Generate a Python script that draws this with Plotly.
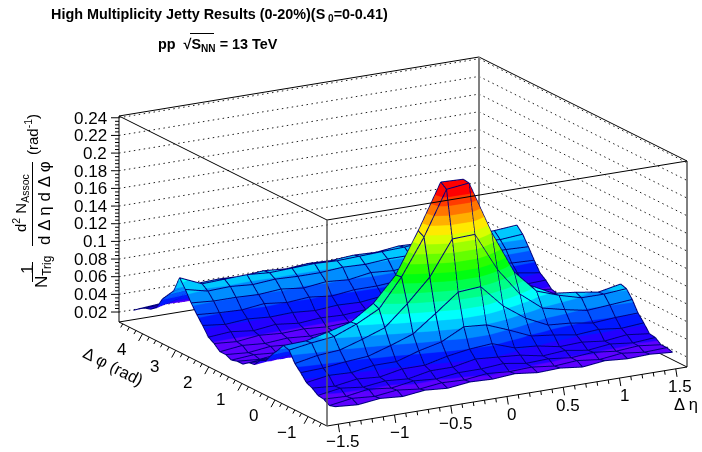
import math
import plotly.graph_objects as go

eta_centres = [-1.5,-1.3,-1.1,-0.9,-0.7,-0.5,-0.3,-0.1,0.1,0.3,0.5,0.7,0.9,1.1,1.3,1.5]
phi_centres = [-1.484,-1.309,-1.134,-0.960,-0.785,-0.611,-0.436,-0.262,-0.087,0.087,0.262,0.436,0.611,0.785,0.960,1.134,1.309,1.484,
               1.658,1.833,2.007,2.182,2.356,2.531,2.705,2.880,3.054,3.229,3.403,3.578,3.752,3.927,4.102,4.276,4.451,4.625]
yield_table = [
[.026,.024,.027,.025,.028,.026,.029,.028,.030,.027,.028,.025,.028,.026,.027,.025],
[.024,.028,.026,.029,.026,.029,.028,.031,.029,.030,.027,.029,.026,.029,.026,.027],
[.028,.027,.031,.028,.032,.030,.033,.033,.035,.031,.032,.029,.031,.028,.030,.027],
[.029,.033,.030,.033,.031,.036,.036,.041,.039,.037,.032,.034,.030,.033,.030,.032],
[.034,.032,.036,.034,.039,.039,.045,.049,.051,.042,.040,.035,.036,.033,.036,.033],
[.037,.041,.040,.044,.044,.052,.058,.071,.069,.059,.048,.045,.041,.043,.040,.042],
[.045,.046,.049,.051,.059,.068,.087,.107,.109,.083,.065,.053,.051,.047,.049,.050],
[.052,.057,.059,.067,.076,.099,.125,.164,.165,.121,.089,.069,.063,.058,.060,.062],
[.064,.068,.071,.081,.094,.126,.167,.217,.220,.160,.111,.085,.076,.069,.069,.071],
[.066,.067,.073,.080,.097,.125,.171,.222,.221,.163,.111,.088,.075,.072,.068,.073],
[.057,.057,.063,.067,.080,.099,.129,.165,.166,.123,.090,.071,.065,.060,.060,.059],
[.049,.051,.051,.057,.061,.074,.089,.112,.109,.088,.066,.058,.051,.052,.049,.051],
[.039,.042,.042,.046,.046,.054,.059,.072,.069,.060,.049,.046,.042,.043,.040,.042],
[.036,.034,.037,.035,.039,.040,.046,.050,.051,.043,.040,.036,.037,.034,.036,.034],
[.028,.031,.029,.032,.031,.035,.035,.041,.038,.037,.032,.032,.029,.031,.030,.031],
[.027,.025,.028,.025,.028,.027,.030,.030,.032,.028,.028,.026,.027,.025,.027,.025],
[.022,.024,.022,.025,.023,.025,.024,.027,.024,.026,.023,.025,.022,.024,.023,.024],
[.022,.020,.023,.021,.023,.021,.023,.021,.024,.021,.023,.020,.023,.021,.022,.020],
[.020,.022,.020,.023,.020,.023,.021,.023,.021,.022,.021,.023,.020,.022,.021,.022],
[.023,.021,.024,.022,.024,.022,.024,.021,.024,.022,.024,.023,.024,.022,.024,.021],
[.023,.026,.024,.026,.024,.026,.024,.026,.024,.027,.024,.026,.025,.027,.024,.026],
[.029,.027,.030,.028,.029,.027,.028,.027,.030,.028,.031,.028,.030,.028,.031,.028],
[.033,.035,.032,.035,.032,.034,.033,.035,.033,.036,.034,.037,.034,.036,.034,.035],
[.043,.040,.042,.040,.041,.039,.041,.040,.043,.041,.044,.042,.045,.042,.044,.040],
[.052,.050,.049,.052,.049,.051,.048,.051,.051,.053,.052,.055,.053,.055,.052,.051],
[.062,.060,.060,.059,.061,.058,.061,.059,.063,.061,.064,.063,.066,.064,.064,.063],
[.074,.068,.069,.067,.069,.068,.068,.070,.069,.071,.071,.074,.073,.075,.072,.074],
[.084,.073,.074,.075,.073,.074,.075,.074,.075,.076,.077,.079,.079,.078,.079,.081],
[.066,.070,.071,.070,.072,.070,.072,.071,.073,.072,.075,.074,.076,.074,.074,.073],
[.058,.061,.062,.060,.061,.060,.062,.061,.063,.062,.064,.065,.064,.066,.063,.062],
[.050,.052,.051,.053,.050,.052,.051,.053,.052,.054,.053,.055,.054,.055,.053,.054],
[.037,.044,.042,.045,.042,.044,.043,.045,.044,.046,.045,.047,.046,.047,.045,.046],
[.032,.037,.036,.038,.035,.038,.036,.038,.037,.039,.038,.040,.039,.040,.038,.039],
[.030,.031,.033,.031,.032,.030,.032,.031,.033,.032,.034,.032,.034,.033,.034,.032],
[.026,.028,.026,.027,.025,.027,.026,.028,.026,.028,.027,.029,.027,.029,.026,.028],
[.021,.023,.022,.023,.021,.023,.022,.023,.022,.024,.022,.024,.022,.024,.022,.023],
]
eta_major = [-1.5,-1,-0.5,0,0.5,1,1.5]
phi_major = [-1,0,1,2,3,4]
z_major = [0.02,0.04,0.06,0.08,0.1,0.12,0.14,0.16,0.18,0.2,0.22,0.24]
z_labels = ["0.02","0.04","0.06","0.08","0.1","0.12","0.14","0.16","0.18","0.2","0.22","0.24"]
eta_labels = ["\u22121.5","\u22121","\u22120.5","0","0.5","1","1.5"]
phi_labels = ["\u22121","0","1","2","3","4"]

ETA0, ETA1 = -1.6, 1.6
PHI0, PHI1 = -math.pi/2, 3*math.pi/2
Z0, Z1 = 0.0087, 0.242
EYE_D = 2.0
ZOOM = 1.97
LIFT = 0.0006
W, H = 702, 452

# paper position of a scene point, matching the scene camera below
def to_px(e, f, z):
    u = (e-ETA0)/(ETA1-ETA0); v = (f-PHI0)/(PHI1-PHI0); w = (z-Z0)/(Z1-Z0)
    return 327 + 360*u - 208*v, 426 - 59*u - 104*v - 206*w

def line_shape(p, q, color="black", width=1, dash=None, layer="above"):
    ln = dict(color=color, width=width)
    if dash: ln["dash"] = dash
    return dict(type="line", xref="paper", yref="paper", layer=layer, x0=p[0]/W, x1=q[0]/W, y0=1-p[1]/H, y1=1-q[1]/H, line=ln)

def frange(a, b, n):
    return [a + (b-a)*i/n for i in range(n+1)]

def seg_trace(segs, color, width):
    xs, ys, zs = [], [], []
    for p, q in segs:
        xs += [p[0], q[0], None]; ys += [p[1], q[1], None]; zs += [p[2], q[2], None]
    return go.Scatter3d(x=xs, y=ys, z=zs, mode="lines", line=dict(color=color, width=width), hoverinfo="skip", showlegend=False)

# 20-band rainbow
def hsv(h):
    h = h/60.0; i = int(h) % 6; f = h-int(h)
    v = [(1,f,0),(1-f,1,0),(0,1,f),(0,1-f,1),(f,0,1),(1,0,1-f)][i]
    return "rgb(%d,%d,%d)" % tuple(round(255*c) for c in v)
N = 20
scale = []
for i in range(N):
    c = hsv(262*(1-i/(N-1)))
    scale += [[i/N, c], [(i+1)/N, c]]

fig = go.Figure()
fig.add_trace(go.Surface(
    x=eta_centres, y=phi_centres, z=yield_table, surfacecolor=yield_table,
    cmin=0.02, cmax=0.22, colorscale=scale, showscale=False, hoverinfo="skip",
    lighting=dict(ambient=1, diffuse=0, specular=0, fresnel=0, roughness=1),
    contours=dict(x=dict(highlight=False), y=dict(highlight=False), z=dict(highlight=False)),
))
# wire mesh along the bin centres
wire = []
for k, phi in enumerate(phi_centres):
    for i in range(len(eta_centres)-1):
        wire.append(((eta_centres[i],phi,yield_table[k][i]+LIFT),(eta_centres[i+1],phi,yield_table[k][i+1]+LIFT)))
for i, eta in enumerate(eta_centres):
    for k in range(len(phi_centres)-1):
        wire.append(((eta,phi_centres[k],yield_table[k][i]+LIFT),(eta,phi_centres[k+1],yield_table[k+1][i]+LIFT)))
fig.add_trace(seg_trace(wire, "#00007a", 2))

# box corners
def c(e, f, z): return to_px(e, f, z)
A0, A1 = c(ETA0,PHI1,Z0), c(ETA0,PHI1,Z1)
B0, B1 = c(ETA0,PHI0,Z0), c(ETA0,PHI0,Z1)
C0, C1 = c(ETA1,PHI0,Z0), c(ETA1,PHI0,Z1)
D0, D1 = c(ETA1,PHI1,Z0), c(ETA1,PHI1,Z1)
shapes = []
# behind the surface
for z in z_major:
    a, d, r = c(ETA0,PHI1,z), c(ETA1,PHI1,z), c(ETA1,PHI0,z)
    shapes.append(line_shape(a, d, "#222222", 1, "1.5px,3.5px", "below"))
    shapes.append(line_shape(d, r, "#222222", 1, "1.5px,3.5px", "below"))
shapes += [line_shape(A0, D0, layer="below"), line_shape(D0, C0, layer="below"),
           line_shape(A1, D1, layer="below"), line_shape(D1, C1, layer="below"),
           line_shape(D0, D1, "#808080", 2, layer="below")]
# in front of the surface
shapes += [line_shape(A0, B0), line_shape(B0, C0), line_shape(A1, B1), line_shape(B1, C1),
           line_shape(A0, A1), line_shape(C0, C1),
           line_shape(B0, B1, "rgba(90,90,90,0.75)", 2)]
# ticks
for z in frange(0.02, 0.24, 55):
    p = c(ETA0,PHI1,z)
    L = 8 if any(abs(z-m) < 1e-6 for m in z_major) else 4
    shapes.append(line_shape(p, (p[0]-L, p[1])))
for e in frange(-1.5, 1.5, 30):
    p = c(e,PHI0,Z0)
    L = 8 if any(abs(e-m) < 1e-6 for m in eta_major) else 4
    shapes.append(line_shape(p, (p[0]+0.16*L, p[1]+L)))
for f in frange(-1.4, 4.6, 30):
    p = c(ETA0,f,Z0)
    L = 8 if any(abs(f-m) < 1e-6 for m in phi_major) else 4
    shapes.append(line_shape(p, (p[0]-0.5*L, p[1]+0.9*L)))
# title furniture
shapes += [line_shape((32.5,262),(32.5,282)), line_shape((32.5,162),(32.5,246)), line_shape((190,33.5),(214,33.5))]

FONT = "Liberation Sans"
annos3d = []
for z, t in zip(z_major, z_labels):
    annos3d.append(dict(x=ETA0,y=PHI1,z=z,text=t,showarrow=False,xanchor="right",yanchor="middle",xshift=-10,
                        font=dict(family=FONT,size=17,color="black")))
for e, t in zip(eta_major, eta_labels):
    annos3d.append(dict(x=e,y=PHI0,z=Z0,text=t,showarrow=False,xanchor="center",yanchor="middle",xshift=5,yshift=-18,
                        font=dict(family=FONT,size=17,color="black")))
for f, t in zip(phi_major, phi_labels):
    annos3d.append(dict(x=ETA0,y=f,z=Z0,text=t,showarrow=False,xanchor="center",yanchor="middle",xshift=-21,yshift=-16,
                        font=dict(family=FONT,size=17,color="black")))

def pa(x, y, text, size, angle=0, bold=False, anchor="center"):
    return dict(xref="paper", yref="paper", x=x/W, y=1-y/H, text=("<b>%s</b>"%text if bold else text), showarrow=False,
                textangle=angle, xanchor=anchor, yanchor="middle",
                font=dict(family=FONT, size=size, color="black"))
annos = [
    pa(219, 15, "High Multiplicity Jetty Results (0-20%)(S<sub> 0</sub>=0-0.41)", 14.4, bold=True),
    pa(218, 45, "pp  \u221aS<sub>NN</sub> = 13 TeV", 14.4, bold=True),
    pa(27, 270, "1", 17, -90),
    pa(43, 272, "N<sub>Trig</sub>", 17, -90),
    pa(20, 203, "d<sup>2</sup> N<sub>Assoc</sub>", 15, -90),
    pa(44, 203, "d \u0394 \u03b7 d \u0394 \u03c6", 17, -90),
    pa(32, 135, "(rad<sup>-1</sup>)", 15, -90),
    pa(113, 366, "\u0394 \u03c6 (rad)", 16.5, 27),
    pa(686, 404, "\u0394 \u03b7", 16.5, 0),
]
hidden = dict(visible=False, showgrid=False, showline=False, showticklabels=False, showbackground=False, showspikes=False, zeroline=False, title="")
fig.update_layout(
    width=W, height=H, margin=dict(l=0,r=0,t=0,b=0), paper_bgcolor="white", showlegend=False,
    annotations=annos, shapes=shapes,
    scene=dict(
        domain=dict(x=[0.148,1.0], y=[0.0,0.931]),
        bgcolor="rgba(0,0,0,0)",
        xaxis=dict(range=[ETA0,ETA1], **hidden),
        yaxis=dict(range=[PHI0,PHI1], **hidden),
        zaxis=dict(range=[Z0,Z1], **hidden),
        aspectmode="manual", aspectratio=dict(x=1*ZOOM,y=1.007*ZOOM,z=0.518*ZOOM),
        camera=dict(projection=dict(type="orthographic"), up=dict(x=0,y=0,z=1), center=dict(x=0,y=0,z=0),
                    eye=dict(x=-0.476*EYE_D,y=-0.831*EYE_D,z=0.286*EYE_D)),
        annotations=annos3d,
    ),
)
fig.write_html("out.html", config=dict(displayModeBar=False),
               post_script="document.body.style.margin='0';document.documentElement.style.overflow='hidden';")
